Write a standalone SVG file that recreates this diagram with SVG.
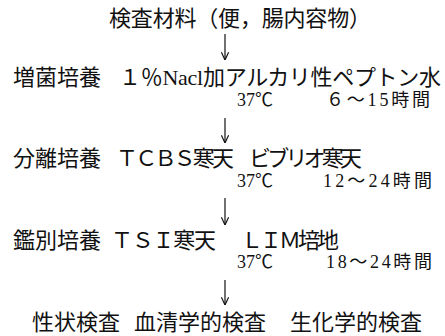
<svg xmlns="http://www.w3.org/2000/svg" width="445" height="336" viewBox="0 0 445 336">
<defs>
<style>
text{font-family:"Liberation Serif","Noto Sans CJK JP",serif;fill:#111;}
.m{font-size:22px;}
.s{font-size:18px;}
.c{stroke:#111;stroke-width:1.2;fill:none;}
</style>
<marker id="ah" viewBox="0 0 10 10" refX="9.5" refY="5" markerWidth="9" markerHeight="9" markerUnits="userSpaceOnUse" orient="auto">
<polyline points="1,1 9.5,5 1,9" fill="none" stroke="#111" stroke-width="1.3"/>
</marker>
</defs>
<g id="sample"><text class="m" x="109" y="26" textLength="262" lengthAdjust="spacing">検査材料（便，腸内容物）</text></g>
<g id="enrich">
<text class="m" x="13" y="85">増菌培養</text>
<text class="m" x="119" y="85" textLength="84" lengthAdjust="spacing">１％Nacl</text>
<text class="m" x="203" y="85" textLength="238" lengthAdjust="spacing">加アルカリ性ペプトン水</text>
<text class="s" x="237" y="106">37℃</text>
<text class="s" x="326" y="106" textLength="104" lengthAdjust="spacing">６～15時間</text>
</g>
<g id="isolate">
<text class="m" x="13" y="166">分離培養</text>
<text class="m" x="116" y="166" textLength="118" lengthAdjust="spacing">ＴＣＢＳ寒天</text>
<text class="m" x="249" y="166" textLength="113" lengthAdjust="spacing">ビブリオ寒天</text>
<text class="s" x="237" y="187">37℃</text>
<text class="s" x="323" y="187" textLength="109" lengthAdjust="spacing">12～24時間</text>
</g>
<g id="identify">
<text class="m" x="13" y="248">鑑別培養</text>
<text class="m" x="111" y="248" textLength="105" lengthAdjust="spacing">ＴＳＩ寒天</text>
<text class="m" x="241" y="248" textLength="98" lengthAdjust="spacing">ＬＩＭ培地</text>
<text class="s" x="237" y="268">37℃</text>
<text class="s" x="326" y="268" textLength="106" lengthAdjust="spacing">18～24時間</text>
</g>
<g id="tests">
<text class="m" x="32" y="330">性状検査</text>
<text class="m" x="134" y="330" textLength="132" lengthAdjust="spacing">血清学的検査</text>
<text class="m" x="290" y="330" textLength="132" lengthAdjust="spacing">生化学的検査</text>
</g>
<g id="connectors">
<line class="c" x1="225" y1="34" x2="225" y2="60" marker-end="url(#ah)"/>
<line class="c" x1="225" y1="118" x2="225" y2="143" marker-end="url(#ah)"/>
<line class="c" x1="225" y1="198" x2="225" y2="225" marker-end="url(#ah)"/>
<line class="c" x1="225" y1="280" x2="225" y2="305" marker-end="url(#ah)"/>
</g>
</svg>
